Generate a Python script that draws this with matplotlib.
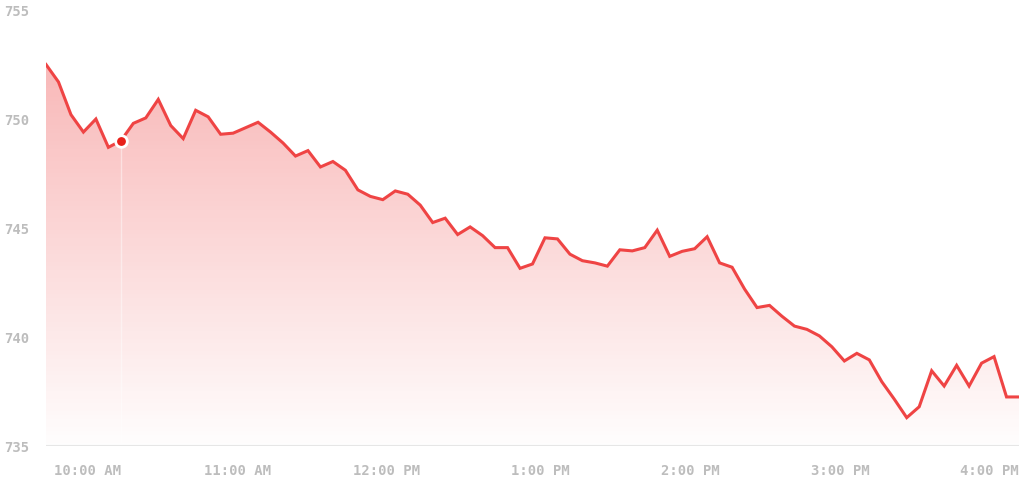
import numpy as np
import matplotlib.pyplot as plt
from matplotlib.colors import LinearSegmentedColormap

# 5-minute prices, 9:30 AM to 4:00 PM
prices = [752.5, 751.7, 750.2, 749.4, 750.0, 748.7, 749.0, 749.8, 750.05, 750.9,
          749.7, 749.1, 750.4, 750.1, 749.3, 749.35, 749.6, 749.85, 749.4, 748.9,
          748.3, 748.55, 747.8, 748.05, 747.65, 746.75, 746.45, 746.3, 746.7, 746.55,
          746.05, 745.25, 745.45, 744.7, 745.05, 744.65, 744.1, 744.1, 743.15, 743.35,
          744.55, 744.5, 743.8, 743.5, 743.4, 743.25, 744.0, 743.95, 744.1, 744.9,
          743.7, 743.93, 744.05, 744.6, 743.4, 743.2, 742.2, 741.35, 741.45, 740.95,
          740.5, 740.35, 740.05, 739.55, 738.9, 739.25, 738.95, 737.95, 737.15, 736.3,
          736.8, 738.45, 737.75, 738.7, 737.75, 738.8, 739.1, 737.25, 737.25]
minutes = np.arange(len(prices)) * 5  # minutes since 9:30

hover_idx = 6
tick_minutes = [30, 90, 150, 210, 270, 330, 390]
tick_labels = ['10:00 AM', '11:00 AM', '12:00 PM', '1:00 PM', '2:00 PM', '3:00 PM', '4:00 PM']
y_ticks = [735, 740, 745, 750, 755]

red = '#ef4444'
grey = '#bdbdbd'

fig = plt.figure(figsize=(10.24, 4.85), dpi=100)
ax = fig.add_axes([46 / 1024, 1 - 447 / 485, 973 / 1024, 436 / 485])
ax.set_xlim(0, 390)
ax.set_ylim(735, 755)

# gradient fill under the line
cmap = LinearSegmentedColormap.from_list('fade', [(0.937, 0.267, 0.267, 0.01),
                                                  (0.937, 0.267, 0.267, 0.38)])
top = max(prices)
grad = np.linspace(0, 1, 256).reshape(-1, 1)
im = ax.imshow(grad, cmap=cmap, aspect='auto', origin='lower',
               extent=[0, 390, 735, top], zorder=1)
clip = plt.Polygon(np.vstack([np.column_stack([minutes, prices]),
                              [[minutes[-1], 735], [minutes[0], 735]]]),
                   transform=ax.transData, facecolor='none', edgecolor='none')
ax.add_patch(clip)
im.set_clip_path(clip)

ax.plot(minutes, prices, color=red, lw=2.2, zorder=3, solid_joinstyle='miter')

# hover marker
ax.plot([minutes[hover_idx]] * 2, [735, prices[hover_idx]], color='white', lw=1, alpha=0.45, zorder=2)
ax.scatter([minutes[hover_idx]], [prices[hover_idx]], s=70, color='#e8201a',
           edgecolor='white', linewidth=2, zorder=4)

ax.axhline(735, color='#e6e6e6', lw=1.5, zorder=2)

for s in ax.spines.values():
    s.set_visible(False)

ax.set_xticks(tick_minutes)
ax.set_xticklabels(tick_labels, ha='right')
ax.set_yticks(y_ticks)
ax.tick_params(length=0, colors=grey, labelsize=10)
ax.tick_params(axis='x', pad=12)
ax.tick_params(axis='y', pad=12)
for lbl in ax.get_xticklabels() + ax.get_yticklabels():
    lbl.set_fontfamily('DejaVu Sans Mono')
    lbl.set_fontweight('bold')

fig.savefig('out.png', dpi=100)
